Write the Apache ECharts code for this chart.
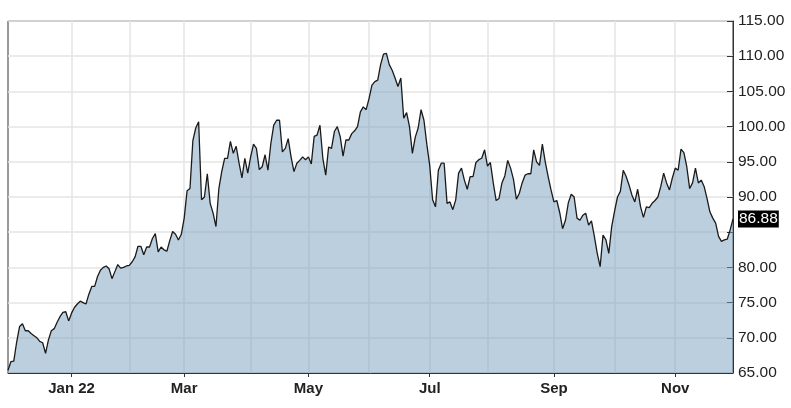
<!DOCTYPE html>
<html>
<head>
<meta charset="utf-8">
<script src="https://cdn.jsdelivr.net/npm/echarts@6/dist/echarts.min.js"></script>
<style>
html,body{margin:0;padding:0;background:#fff;}
#chart{width:791px;height:408px;}
</style>
</head>
<body>
<div id="chart"></div>
<script>
// Trading-day range and market holidays (used to build the category axis)
const startDate = '2021-12-01';
const endDate = '2022-11-30';
const holidays = ['2021-12-24','2022-01-17','2022-02-21','2022-04-15','2022-05-30','2022-06-20','2022-07-04','2022-09-05','2022-11-24'];
const monthNames = ['Jan','Feb','Mar','Apr','May','Jun','Jul','Aug','Sep','Oct','Nov','Dec'];
const labelMonths = [0,2,4,6,8,10];

// Daily close values
const closes = [
65.4,66.6,66.7,69.4,71.6,72.0,71.0,71.0,70.6,70.3,
70.0,69.5,69.3,67.8,69.7,71.0,71.3,72.2,73.0,73.6,
73.7,72.4,73.5,74.3,74.8,75.2,75.0,74.8,76.2,77.3,
77.3,78.7,79.6,80.0,80.2,79.8,78.4,79.4,80.4,79.9,
80.0,80.2,80.3,80.8,81.5,83.0,83.0,81.8,82.9,82.9,
84.1,84.8,82.2,82.9,82.5,82.3,83.8,85.1,84.7,83.9,
84.7,87.0,90.9,91.2,98.0,99.8,100.7,89.6,90.0,93.3,
89.1,87.7,85.8,91.2,93.6,95.5,95.5,97.9,96.2,97.2,
94.8,92.7,95.5,93.4,95.7,97.5,96.9,93.9,94.3,96.0,
93.8,97.6,100.2,100.9,100.9,96.4,96.9,98.3,95.7,93.6,
94.8,95.2,95.7,95.3,95.7,94.7,98.6,98.8,100.2,95.5,
93.1,97.1,96.9,99.3,100.0,98.6,95.8,98.1,98.1,99.0,
99.4,100.0,102.1,102.8,102.4,104.0,105.9,106.4,106.6,108.8,
110.3,110.4,108.8,108.0,106.9,105.7,106.9,101.2,102.0,100.0,
96.2,98.5,99.8,102.4,100.9,97.5,94.5,89.6,88.6,93.8,
94.8,94.8,89.1,89.3,88.2,89.6,93.4,94.1,92.4,91.1,
92.9,92.9,94.9,95.3,95.5,96.7,94.4,94.9,92.0,89.5,
89.8,92.0,93.0,95.2,94.1,92.5,89.7,90.5,92.0,93.1,
93.3,93.3,96.7,95.0,94.5,97.5,95.0,92.9,91.0,89.3,
89.5,87.8,85.5,86.7,89.2,90.4,90.0,87.0,86.7,87.4,
87.7,86.0,86.6,84.4,82.0,80.1,84.6,83.9,82.0,85.8,
88.0,90.0,90.8,93.8,92.9,91.7,90.3,89.3,91.1,88.6,
87.1,88.6,88.5,89.1,89.5,90.0,91.5,93.4,92.0,91.0,
92.7,94.1,93.8,96.8,96.3,94.3,91.2,92.0,94.1,92.0,
92.4,91.5,89.8,87.9,87.0,86.3,84.4,83.7,83.9,84.0,
85.3,86.88
];
const lastValue = 86.88;
const yMin = 65, yMax = 115, yStep = 5;
const hiddenYLabels = [85];

function pad(n){return (n<10?'0':'')+n;}
function buildDates(){
  const out = [];
  const d = new Date(startDate+'T00:00:00Z');
  const end = new Date(endDate+'T00:00:00Z');
  while(d <= end){
    const s = d.getUTCFullYear()+'-'+pad(d.getUTCMonth()+1)+'-'+pad(d.getUTCDate());
    const wd = d.getUTCDay();
    if(wd!==0 && wd!==6 && holidays.indexOf(s)<0) out.push(s);
    d.setUTCDate(d.getUTCDate()+1);
  }
  return out;
}
const dates = buildDates();
function isMonthStart(i){
  return i===0 || dates[i].slice(0,7)!==dates[i-1].slice(0,7);
}
function isLabelIdx(i){
  if(i===0 || !isMonthStart(i)) return false;
  return labelMonths.indexOf(parseInt(dates[i].slice(5,7),10)-1)>=0;
}

const chart = echarts.init(document.getElementById('chart'), null, {renderer:'canvas'});
chart.setOption({
  animation:false,
  backgroundColor:'#ffffff',
  grid:{left:8,right:58,top:21,bottom:35,show:true,borderColor:'#333',borderWidth:1},
  xAxis:{
    type:'category',
    data:dates,
    boundaryGap:false,
    axisLine:{show:true,lineStyle:{color:'#333',width:1}},
    axisTick:{show:true,length:4,lineStyle:{color:'#333'},interval:function(i){return isLabelIdx(i);}},
    splitLine:{show:true,lineStyle:{color:'#e4e4e4',width:1.5},interval:function(i){return isMonthStart(i)&&i>0;}},
    axisLabel:{
      interval:function(i){return isLabelIdx(i);},
      fontFamily:'Liberation Sans, Arial, sans-serif',
      fontWeight:'bold',fontSize:15,color:'#222',margin:8,
      formatter:function(v){
        const m = parseInt(v.slice(5,7),10)-1;
        const y = v.slice(2,4);
        return m===0 ? monthNames[m]+' '+y : monthNames[m];
      }
    }
  },
  yAxis:{
    type:'value',position:'right',min:yMin,max:yMax,interval:yStep,
    axisLine:{show:true,lineStyle:{color:'#333',width:1}},
    axisTick:{show:true,inside:true,length:6,lineStyle:{color:'#333'}},
    splitLine:{show:true,lineStyle:{color:'#e4e4e4',width:1.5}},
    axisLabel:{
      fontFamily:'Liberation Sans, Arial, sans-serif',fontSize:15.5,color:'#222',margin:5,
      formatter:function(v){return hiddenYLabels.indexOf(v)>=0?'':v.toFixed(2);}
    }
  },
  series:[{
    type:'line',
    data:closes,
    symbol:'none',
    lineStyle:{color:'#1a1a1a',width:1.3},
    areaStyle:{color:'rgba(122,160,190,0.5)',opacity:1},
    markLine:{
      silent:true,symbol:['none','none'],
      lineStyle:{width:0,color:'rgba(0,0,0,0)'},
      emphasis:{disabled:true},
      data:[{yAxis:lastValue}],
      label:{
        show:true,position:'end',distance:5,
        formatter:function(){return lastValue.toFixed(2);},
        color:'#ffffff',backgroundColor:'#000000',
        fontFamily:'Liberation Sans, Arial, sans-serif',fontSize:15.5,
        padding:[1,1,0,1]
      }
    }
  }]
});
</script>
</body>
</html>
